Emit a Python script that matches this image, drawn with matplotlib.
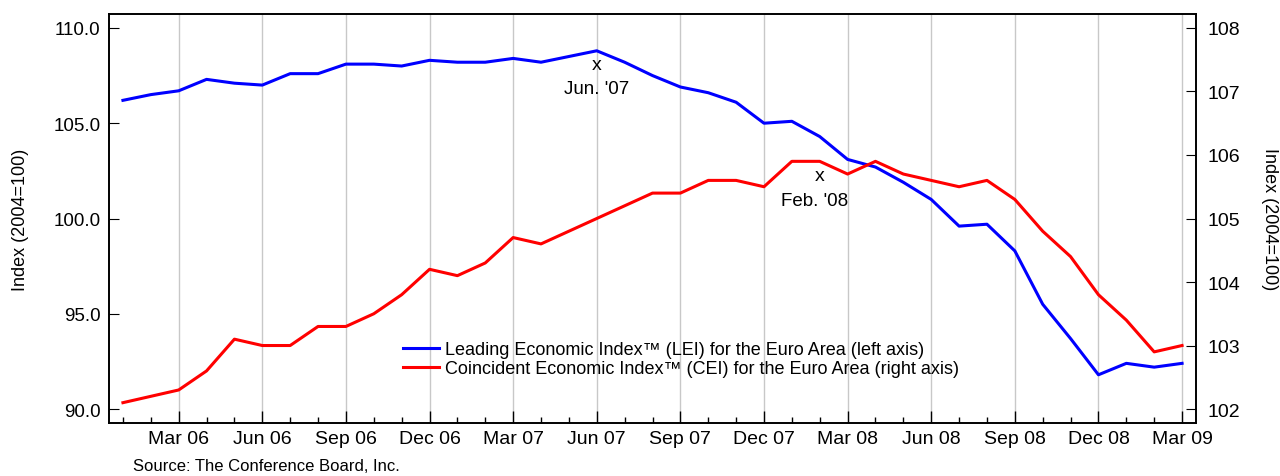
import matplotlib.pyplot as plt
from matplotlib.ticker import FixedLocator

plt.rcParams['font.family'] = ['Liberation Sans', 'DejaVu Sans']

# Monthly data, Jan 06 .. Mar 09
months = ["Jan 06", "Feb 06", "Mar 06", "Apr 06", "May 06", "Jun 06", "Jul 06", "Aug 06",
          "Sep 06", "Oct 06", "Nov 06", "Dec 06", "Jan 07", "Feb 07", "Mar 07", "Apr 07",
          "May 07", "Jun 07", "Jul 07", "Aug 07", "Sep 07", "Oct 07", "Nov 07", "Dec 07",
          "Jan 08", "Feb 08", "Mar 08", "Apr 08", "May 08", "Jun 08", "Jul 08", "Aug 08",
          "Sep 08", "Oct 08", "Nov 08", "Dec 08", "Jan 09", "Feb 09", "Mar 09"]

lei = [106.2, 106.5, 106.7, 107.3, 107.1, 107.0, 107.6, 107.6,
       108.1, 108.1, 108.0, 108.3, 108.2, 108.2, 108.4, 108.2,
       108.5, 108.8, 108.2, 107.5, 106.9, 106.6, 106.1, 105.0,
       105.1, 104.3, 103.1, 102.7, 101.9, 101.0, 99.6, 99.7,
       98.3, 95.5, 93.7, 91.8, 92.4, 92.2, 92.4]

cei = [102.1, 102.2, 102.3, 102.6, 103.1, 103.0, 103.0, 103.3,
       103.3, 103.5, 103.8, 104.2, 104.1, 104.3, 104.7, 104.6,
       104.8, 105.0, 105.2, 105.4, 105.4, 105.6, 105.6, 105.5,
       105.9, 105.9, 105.7, 105.9, 105.7, 105.6, 105.5, 105.6,
       105.3, 104.8, 104.4, 103.8, 103.4, 102.9, 103.0]

left_ticks = [90.0, 95.0, 100.0, 105.0, 110.0]
right_ticks = [102, 103, 104, 105, 106, 107, 108]

x = list(range(len(months)))
major_idx = [i for i, m in enumerate(months) if m[:3] in ("Mar", "Jun", "Sep", "Dec")]

fig = plt.figure(figsize=(12.8, 4.77), dpi=100)
ax = fig.add_axes([109 / 1280, 53 / 477, (1196 - 109) / 1280, (424 - 15) / 477])
ax2 = ax.twinx()

ax.plot(x, lei, color="#0000ff", lw=2.2, zorder=3,
        label="Leading Economic Index\u2122 (LEI) for the Euro Area (left axis)")
ax2.plot(x, cei, color="#ff0000", lw=2.2, zorder=3,
         label="Coincident Economic Index\u2122 (CEI) for the Euro Area (right axis)")

ax.set_xlim(-0.5, 38.5)
ax.set_ylim(89.27, 110.73)
ax2.set_ylim(101.78, 108.22)

ax.set_xticks(major_idx)
ax.set_xticklabels([months[i] for i in major_idx])
ax.xaxis.set_minor_locator(FixedLocator(x))
ax.grid(axis="x", which="major", color="#c8c8c8", lw=1.0)
ax.set_axisbelow(True)

ax.set_yticks(left_ticks)
ax.set_yticklabels([f"{v:.1f}" for v in left_ticks])
ax2.set_yticks(right_ticks)

ax.tick_params(axis="x", which="major", direction="in", length=9, width=1, labelsize=14, pad=5)
ax.tick_params(axis="x", which="minor", direction="in", length=4, width=1)
ax.tick_params(axis="y", direction="in", length=7, labelsize=13.5, pad=6)
ax2.tick_params(axis="y", direction="in", length=7, labelsize=14, pad=8)

for sp in list(ax.spines.values()) + list(ax2.spines.values()):
    sp.set_linewidth(1.2)
    sp.set_color("black")

ax.set_ylabel("Index (2004=100)", fontsize=13)
ax2.set_ylabel("Index (2004=100)", fontsize=13, rotation=270, va="center")
ax.yaxis.set_label_coords(-0.0736, 0.5)
ax2.yaxis.set_label_coords(1.068, 0.5)

# peak markers
ax.text(17, 108.06, "x", ha="center", va="center", fontsize=14)
ax.text(17, 106.8, "Jun. '07", ha="center", va="center", fontsize=13.5)
ax2.text(25, 105.67, "x", ha="center", va="center", fontsize=14)
ax2.text(24.8, 105.29, "Feb. '08", ha="center", va="center", fontsize=13.5)

h1, l1 = ax.get_legend_handles_labels()
h2, l2 = ax2.get_legend_handles_labels()
ax.legend(h1 + h2, l1 + l2, loc="center left", bbox_to_anchor=(0.2705, 0.1565),
          frameon=False, fontsize=13, handlelength=2.0, handletextpad=0.35,
          labelspacing=0.1, borderaxespad=0, borderpad=0)

fig.text(133 / 1280, 1 - 467 / 477, "Source: The Conference Board, Inc.", fontsize=12,
         va="center", ha="left")

fig.savefig("out.png", dpi=100)
